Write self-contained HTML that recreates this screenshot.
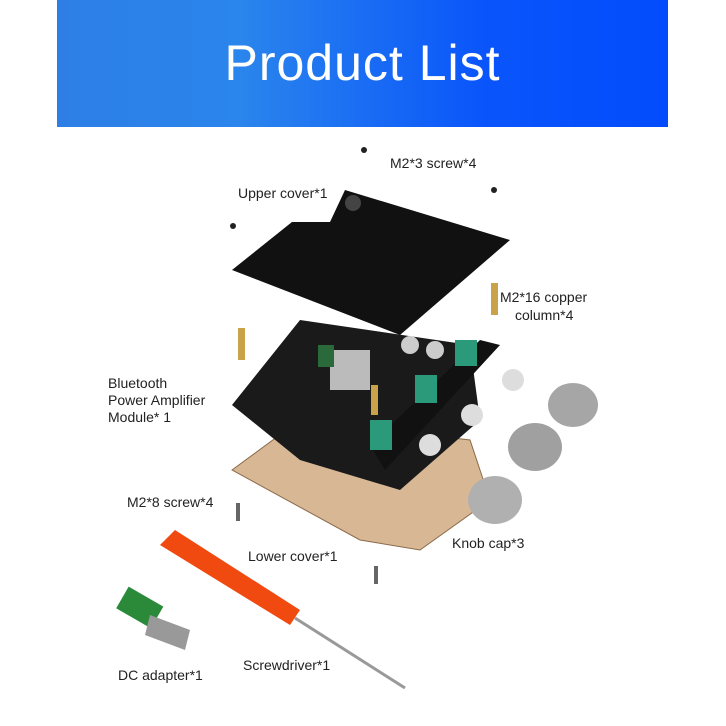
<!DOCTYPE html>
<html><head><meta charset="utf-8"><style>
body{margin:0;width:726px;height:726px;background:#fff;position:relative;overflow:hidden;font-family:"Liberation Sans",sans-serif}
.hdr{position:absolute;left:57px;top:0;width:611px;height:127px;background:linear-gradient(90deg,#2d7fe6 0%,#2a85ec 30%,#0a55fb 70%,#034cfd 100%)}
.hdr div{position:absolute;left:0;right:0;top:34px;text-align:center;color:#fff;font-size:50px;letter-spacing:1px}
.l{position:absolute;font-size:14px;color:#222;line-height:17px;white-space:nowrap}
svg{position:absolute;left:0;top:0}
</style></head><body>
<div class="hdr"><div>Product List</div></div>
<svg width="726" height="726">
<polygon points="232,470 300,420 470,440 490,500 420,550 360,540" fill="#d8b894" stroke="#8a6a48"/>
<polygon points="232,405 300,320 470,345 480,420 400,490 300,460" fill="#1a1a1a"/>
<rect x="330" y="350" width="40" height="40" fill="#bbb"/>
<circle cx="410" cy="345" r="9" fill="#ccc"/><circle cx="435" cy="350" r="9" fill="#ccc"/>
<rect x="318" y="345" width="16" height="22" fill="#2a6a3a"/>
<polygon points="370,445 480,340 500,345 385,470" fill="#111"/>
<rect x="370" y="420" width="22" height="30" fill="#2a9a7a"/>
<rect x="415" y="375" width="22" height="28" fill="#2a9a7a"/>
<rect x="455" y="340" width="22" height="26" fill="#2a9a7a"/>
<polygon points="232,270 292,222 330,222 345,190 510,240 400,335" fill="#111"/>
<circle cx="353" cy="203" r="8" fill="#444"/>
<ellipse cx="573" cy="405" rx="25" ry="22" fill="#a6a6a6"/>
<ellipse cx="535" cy="447" rx="27" ry="24" fill="#a0a0a0"/>
<ellipse cx="495" cy="500" rx="27" ry="24" fill="#b0b0b0"/>
<circle cx="513" cy="380" r="11" fill="#ddd"/><circle cx="472" cy="415" r="11" fill="#ddd"/><circle cx="430" cy="445" r="11" fill="#ddd"/>
<rect x="238" y="328" width="7" height="32" fill="#c9a24a"/>
<rect x="491" y="283" width="7" height="32" fill="#c9a24a"/>
<rect x="371" y="385" width="7" height="30" fill="#c9a24a"/>
<circle cx="364" cy="150" r="3" fill="#222"/><circle cx="494" cy="190" r="3" fill="#222"/><circle cx="233" cy="226" r="3" fill="#222"/>
<rect x="236" y="503" width="4" height="18" fill="#666"/><rect x="374" y="566" width="4" height="18" fill="#666"/>
<polygon points="160,545 175,530 300,610 290,625" fill="#f04a10"/>
<line x1="295" y1="618" x2="405" y2="688" stroke="#999" stroke-width="3"/>
<rect x="120" y="595" width="40" height="25" fill="#2a8a3a" transform="rotate(30 140 607)"/>
<polygon points="150,615 190,630 185,650 145,635" fill="#999"/>
</svg>
<div class="l" style="left:390px;top:155px">M2*3 screw*4</div>
<div class="l" style="left:238px;top:185px">Upper cover*1</div>
<div class="l" style="left:500px;top:289px">M2*16 copper</div>
<div class="l" style="left:515px;top:307px">column*4</div>
<div class="l" style="left:108px;top:375px">Bluetooth<br>Power Amplifier<br>Module* 1</div>
<div class="l" style="left:127px;top:494px">M2*8 screw*4</div>
<div class="l" style="left:452px;top:535px">Knob cap*3</div>
<div class="l" style="left:248px;top:548px">Lower cover*1</div>
<div class="l" style="left:243px;top:657px">Screwdriver*1</div>
<div class="l" style="left:118px;top:667px">DC adapter*1</div>
</body></html>
